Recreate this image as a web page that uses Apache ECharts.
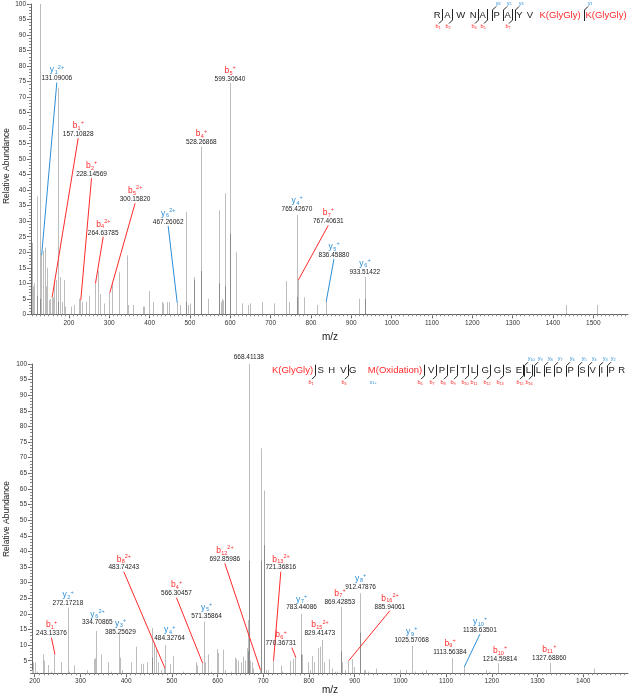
<!DOCTYPE html>
<html><head><meta charset="utf-8">
<script src="https://cdn.jsdelivr.net/npm/echarts@6/dist/echarts.min.js"></script>
<style>html,body{margin:0;padding:0;background:#fff}#c{width:630px;height:699px}</style>
</head><body><div id="c"></div>
<script>
// ---------------- DATA ----------------
// Top spectrum: unannotated peaks (m/z, relative abundance %)
const topPeakMz = [109,111.5,114,120,129.1,134.8,140,142.5,145,150,153,161,164,168,174.1,179,182,187.5,190,206,212,225,232,242,250,273,276,287,306,325,345,347,360,384,386,399,409,430,432,442,447,475,489.3,495,501,509,510.5,544,546,571,573,576,580,583,587.6,614.5,630,644.5,649.5,678,709,738.5,745,784,816,918.5,1432,1508];
const topPeakAb = [23,9,10,38,100,20.5,21.5,9,15,4.5,5,5.5,10.5,11,73,12,4,11,2.5,2.5,3,5,4,4,6,14,6.5,3.5,10.5,13.5,19,3,3,2.5,2.5,7.5,4,4,3.5,4,4,3,33,3,3.5,12,11,5,3,33.5,4,4,5,4.5,39,20,3.5,3,3.5,4,3.5,10.7,4,5.5,3,5,3,3];
const topDarkMz = [120,129.1,174.1,489.3,509,528.27,571,587.6,599.31,765.43,933.51];
const topDarkAb = [6,5,4,4,11,14,10,9,26,5.5,5];
// Top spectrum: annotated fragment ions
const topIonType = ['y','b','b','b','b','y','b','b','y','b','y','y'];
const topIonNo = ['1','1','2','4','5','6','4','5','4','7','5','6'];
const topIonZ = ['2+','+','+','2+','2+','2+','+','+','+','+','+','+'];
const topIonMz = [131.09006,157.10828,228.14569,264.63785,300.15820,467.26062,528.26868,599.30640,765.42670,767.40631,836.45880,933.51422];
const topIonAb = [19,5.5,4.5,10,7,3.7,54,74.5,32,11,4,12];

// Bottom spectrum: unannotated peaks
const botPeakMz = [195,197,200,206,218,219.5,229,236,258,274,286,300,314,329,332,344.5,360,366,387,392,411.6,420.5,422,432,437,446,457.6,460,466,470,476,495,503,516,524,552,556,573,580,585,599,601,610.8,612,617,630,638,641,644,651,656,659.6,664,667,668.41138,672,675,678,694.6,696,701.9,705,710,738,742,758,765,785,797,802,806,812,820,823.8,833,844,850,858,862,872,878,893.8,898,920,923,930,946,999,1013,1032,1047,1057,1187,1193,1424];
const botPeakAb = [2,4.5,4.5,1.5,7,5,3.6,1.5,4.5,1.5,3.5,1,2,5.5,5.8,7,4.5,1.5,6,2,4.5,9.5,4.5,4,4,4.5,15.5,11,8.5,4.5,2,4,6.5,1,1.5,4.5,3.5,4.5,7,1.5,8.7,7.5,8.5,6.5,2,1.5,6,5.5,5,4.5,6.3,5,9,18,100,5,4.5,2.5,73,4,59.5,2,2,3.5,1.5,5,5.5,7,4.5,2,6.5,4.5,9,9.5,4.5,5.5,2.5,1.5,1.5,4.5,2,5.5,3,2,2,1.5,2.5,2,2,1.5,1.5,2,2,1.5,2.5];
const botDarkMz = [457.6,667,668.41138,694.6,701.9,783.44,869.43,912.48];
const botDarkAb = [6,8,37,37,42,7,8,14];
const botBaseMz = 668.41138;
// Bottom spectrum: annotated fragment ions
const botIonType = ['b','y','y','y','b','y','b','y','b','b','y','b','b','b','y','b','y','y','b','b','b'];
const botIonNo = ['1','2','6','3','8','4','4','5','12','13','7','6','15','7','8','16','9','10','9','10','11'];
const botIonZ = ['+','+','2+','+','2+','+','+','+','2+','2+','+','+','2+','+','+','2+','+','+','+','+','+'];
const botIonMz = [243.13376,272.17218,334.70865,385.25629,483.74243,484.32764,566.30457,571.35864,692.85986,721.36816,783.44086,770.36731,829.41473,869.42853,912.47876,885.94061,1025.57068,1138.63501,1113.56384,1214.59814,1327.68860];
const botIonAb = [7,22,14.5,13.5,2.6,10,4.2,17.5,2,5,20,6,11.6,22.3,26.6,5,9.7,3,5.8,4.2,4.4];

// Axis tick labels
const topXTicks = [200,300,400,500,600,700,800,900,1000,1100,1200,1300,1400,1500];
const botXTicks = [200,300,400,500,600,700,800,900,1000,1100,1200,1300,1400];
const topYTicks = [0,5,10,15,20,25,30,35,40,45,50,55,60,65,70,75,80,85,90,95,100];
const botYTicks = [5,10,15,20,25,30,35,40,45,50,55,60,65,70,75,80,85,90,95,100];

// Peptide sequences
const topSeq = ['R','A','W','N','A','P','A','Y','V','K(GlyGly)','K(GlyGly)'];
const topSeqMod = [0,0,0,0,0,0,0,0,0,1,1];
const topSeqB = [[0,'1'],[1,'2'],[3,'4'],[4,'5'],[6,'7']];
const topSeqY = [[5,'6'],[6,'5'],[7,'4'],[10,'1']];
const botSeq = ['K(GlyGly)','S','H','V','G','M(Oxidation)','V','P','F','T','L','G','G','S','E','L','L','E','D','P','S','V','I','P','R'];
const botSeqMod = [1,0,0,0,0,1,0,0,0,0,0,0,0,0,0,0,0,0,0,0,0,0,0,0,0];
const botSeqB = [[0,'1'],[3,'4'],[5,'6'],[6,'7'],[7,'8'],[8,'9'],[9,'10'],[10,'11'],[11,'12'],[12,'13'],[14,'15'],[15,'16']];
const botSeqY = [[15,'10'],[16,'9'],[17,'8'],[18,'7'],[19,'6'],[20,'5'],[21,'4'],[22,'3'],[23,'2']];
const botSeqExtra = [[5,'x','1+']];

// ---------------- LAYOUT (label placement, not data) ----------------
// [labelMz, labelAbundance, drawLeader, leaderDx]
const topLabelPos = [[170,78.7,1],[223,60.8,1],[256,47.9,1],[285,29,1],[364,39.8,1],[446,32.5,1],[528.3,58.1,0],[599.3,78.5,0],[765.4,36.6,0],[843,32.7,1],[857,21.8,1],[933.5,16.4,0]];
const botLabelPos = [[236.5,16.4,1],[272.5,26,0],[337,19.9,0],[387.5,17,0],[394.8,37.5,1],[495,14.8,0],[510,29.2,1],[575.8,22.1,0],[615.8,40.2,1],[738.4,37.5,1],[783.7,24.7,0],[738.4,13.2,1,11],[823.8,16.4,0],[867.5,26.6,0],[912.8,31.4,0],[977,25,1],[1024.5,14.3,0],[1174,17.5,1],[1108.3,10.6,0],[1217.7,8.2,0],[1325.6,8.6,0]];
const topSeqX = [437.3,447.3,460.7,473.3,482.7,496.7,507.7,519.3,530,560,606];
const botSeqX = [292.5,320.7,331.7,343.3,352.7,395,431.2,442,452.5,463.2,473.3,485.3,497.5,508.2,518.8,528.3,538.3,548.3,559.3,570.7,582.3,592.7,601.7,611.7,621.7];

// ---------------- RENDER ----------------
const FONT = 'Liberation Sans';
const RED = '#ff2a2a', BLUE = '#2b8ed6', PEAK = '#bdbdbd', DARK = '#8c8c8c', AXIS = '#666', TXT = '#222';
function rng(a, b, s) { const r = []; for (let v = a; v <= b + 1e-9; v += s) r.push(+v.toFixed(6)); return r; }
const plain = v => String(v);

function xAxesFor(gi, min, max, labels) {
  return [
    { type: 'value', gridIndex: gi, position: 'bottom', min, max, splitLine: { show: false },
      axisLine: { lineStyle: { color: AXIS, width: 1 } },
      axisTick: { length: 4, lineStyle: { color: AXIS }, customValues: labels },
      axisLabel: { customValues: labels, formatter: plain, fontSize: 6.5, color: '#333', fontFamily: FONT, margin: 5 } },
    { type: 'value', gridIndex: gi, position: 'bottom', min, max, splitLine: { show: false },
      axisLine: { show: false }, axisLabel: { show: false },
      axisTick: { length: 2, lineStyle: { color: '#888' }, customValues: rng(Math.ceil(min / 10) * 10, max, 10) } }
  ];
}
function yAxesFor(gi, min, max, labels) {
  return [
    { type: 'value', gridIndex: gi, position: 'left', min, max, splitLine: { show: false },
      axisLine: { show: true, lineStyle: { color: AXIS, width: 1 } },
      axisTick: { show: true, length: 4, lineStyle: { color: AXIS }, customValues: labels },
      axisLabel: { customValues: labels, formatter: plain, fontSize: 6.5, color: '#333', fontFamily: FONT, margin: 5 } },
    { type: 'value', gridIndex: gi, position: 'left', min, max, splitLine: { show: false },
      axisLine: { show: false }, axisLabel: { show: false },
      axisTick: { show: true, length: 2, lineStyle: { color: '#888' }, customValues: rng(Math.ceil(min), max, 1) } }
  ];
}

function stickSeries(xi, yi, mz, ab, color, ymin) {
  return {
    type: 'custom', xAxisIndex: xi, yAxisIndex: yi, silent: true, clip: true,
    data: mz.map((m, i) => [m, ab[i]]),
    renderItem(params, api) {
      const p0 = api.coord([api.value(0), ymin]);
      const p1 = api.coord([api.value(0), Math.max(ymin, api.value(1))]);
      const x = Math.round(p0[0]) + 0.5;
      return { type: 'line', shape: { x1: x, y1: p0[1], x2: x, y2: p1[1] }, style: { stroke: color, lineWidth: 1 } };
    }
  };
}

function annSeries(xi, yi, types, nos, zs, mzs, abs, pos, ymin) {
  return {
    type: 'custom', xAxisIndex: xi, yAxisIndex: yi, silent: true, clip: false, z: 5,
    data: mzs.map((m, i) => [m, abs[i], i]),
    renderItem(params, api) {
      const i = api.value(2);
      const pk = api.coord([api.value(0), Math.max(ymin, api.value(1))]);
      const p = pos[i];
      const lb = api.coord([p[0], p[1]]);
      const col = types[i] === 'b' ? RED : BLUE;
      const wMain = 4.7, wSub = 3.06 * nos[i].length, wSup = zs[i].length === 2 ? 6.3 : 3.2;
      const x0 = lb[0] - (wMain + wSub + wSup) / 2;
      const ch = [
        { type: 'text', style: { text: types[i], x: x0, y: lb[1], align: 'left', verticalAlign: 'middle', fontSize: 8.5, fontFamily: FONT, fill: col } },
        { type: 'text', style: { text: nos[i], x: x0 + wMain + 0.2, y: lb[1] + 2.4, align: 'left', verticalAlign: 'middle', fontSize: 5.5, fontFamily: FONT, fill: col } },
        { type: 'text', style: { text: zs[i], x: x0 + wMain + wSub + 0.3, y: lb[1] - 3, align: 'left', verticalAlign: 'middle', fontSize: 5.5, fontFamily: FONT, fill: col } },
        { type: 'text', style: { text: mzs[i].toFixed(5), x: lb[0], y: lb[1] + 8.5, align: 'center', verticalAlign: 'middle', fontSize: 6.5, fontFamily: FONT, fill: TXT } }
      ];
      if (p[2]) {
        ch.push({ type: 'line', shape: { x1: lb[0] + (p[3] || 0), y1: lb[1] + 12.5, x2: pk[0] + 0.5, y2: pk[1] }, style: { stroke: col, lineWidth: 1 } });
      }
      return { type: 'group', children: ch };
    }
  };
}

function baseLabelSeries(xi, yi, mz) {
  return {
    type: 'custom', xAxisIndex: xi, yAxisIndex: yi, silent: true, clip: false, z: 5,
    data: [[mz, 100]],
    renderItem(params, api) {
      const p = api.coord([api.value(0), api.value(1)]);
      return { type: 'text', style: { text: api.value(0).toFixed(5), x: p[0], y: p[1] - 7, align: 'center', verticalAlign: 'middle', fontSize: 6.5, fontFamily: FONT, fill: TXT } };
    }
  };
}

const mctx = document.createElement('canvas').getContext('2d');
function tw(t, size) { mctx.font = size + 'px "' + FONT + '"'; return mctx.measureText(t).width; }

function seqGraphics(res, mods, xs, cy, bList, yList, extra) {
  const els = [];
  const FS = 9.5;
  res.forEach((r, i) => els.push({ type: 'text', x: xs[i], y: cy, style: { text: r, fontSize: FS, fontFamily: FONT, fill: mods[i] ? RED : TXT, align: 'center', verticalAlign: 'middle' } }));
  bList.forEach(([i, n]) => {
    const x = Math.round(xs[i] + tw(res[i], FS) / 2 + 1.5) + 0.5;
    els.push({ type: 'polyline', shape: { points: [[x, cy - 6], [x, cy + 5], [x - 3.5, cy + 8.5]] }, style: { stroke: TXT, lineWidth: 1, fill: null } });
    els.push({ type: 'text', x: x - 5.5, y: cy + 11.5, style: { text: 'b', fontSize: 5.5, fontFamily: FONT, fill: RED, align: 'center', verticalAlign: 'middle' } });
    els.push({ type: 'text', x: x - 4, y: cy + 12.8, style: { text: n, fontSize: 3.8, fontFamily: FONT, fill: RED, align: 'left', verticalAlign: 'middle' } });
  });
  yList.forEach(([i, n]) => {
    const x = Math.round(xs[i] - tw(res[i], FS) / 2 - 1.5) + 0.5;
    els.push({ type: 'polyline', shape: { points: [[x, cy + 6], [x, cy - 5], [x + 3.5, cy - 8.5]] }, style: { stroke: TXT, lineWidth: 1, fill: null } });
    els.push({ type: 'text', x: x + 4.5, y: cy - 12, style: { text: 'y', fontSize: 5.5, fontFamily: FONT, fill: BLUE, align: 'center', verticalAlign: 'middle' } });
    els.push({ type: 'text', x: x + 6, y: cy - 10.8, style: { text: n, fontSize: 3.8, fontFamily: FONT, fill: BLUE, align: 'left', verticalAlign: 'middle' } });
  });
  (extra || []).forEach(([i, l, n]) => {
    const x = xs[i] - tw(res[i], FS) / 2 + 3;
    els.push({ type: 'text', x: x, y: cy + 11.5, style: { text: l, fontSize: 5.5, fontFamily: FONT, fill: BLUE, align: 'center', verticalAlign: 'middle' } });
    els.push({ type: 'text', x: x + 1.6, y: cy + 12, style: { text: n, fontSize: 3.8, fontFamily: FONT, fill: BLUE, align: 'left', verticalAlign: 'middle' } });
  });
  return els;
}

const chart = echarts.init(document.getElementById('c'), null, { renderer: 'canvas', width: 630, height: 699 });
const graphics = [].concat(
  seqGraphics(topSeq, topSeqMod, topSeqX, 15, topSeqB, topSeqY),
  seqGraphics(botSeq, botSeqMod, botSeqX, 370.7, botSeqB, botSeqY, botSeqExtra),
  [
    { type: 'text', x: 330, y: 337, style: { text: 'm/z', fontSize: 10, fontFamily: FONT, fill: TXT, align: 'center', verticalAlign: 'middle' } },
    { type: 'text', x: 330, y: 690, style: { text: 'm/z', fontSize: 10, fontFamily: FONT, fill: TXT, align: 'center', verticalAlign: 'middle' } },
    { type: 'text', x: 7, y: 166, rotation: Math.PI / 2, style: { text: 'Relative Abundance', fontSize: 8.5, fontFamily: FONT, fill: TXT, align: 'center', verticalAlign: 'middle' } },
    { type: 'text', x: 7, y: 519, rotation: Math.PI / 2, style: { text: 'Relative Abundance', fontSize: 8.5, fontFamily: FONT, fill: TXT, align: 'center', verticalAlign: 'middle' } }
  ]
);

chart.setOption({
  backgroundColor: '#fff',
  animation: false,
  grid: [
    { left: 31, top: 4, width: 597, height: 310.3 },
    { left: 32, top: 364, width: 596, height: 309.2 }
  ],
  xAxis: [].concat(xAxesFor(0, 106, 1586, topXTicks), xAxesFor(1, 194, 1498, botXTicks)),
  yAxis: [].concat(yAxesFor(0, 0, 100, topYTicks), yAxesFor(1, 1, 100, botYTicks)),
  series: [
    stickSeries(0, 0, topPeakMz, topPeakAb, PEAK, 0),
    stickSeries(0, 0, topIonMz, topIonAb, PEAK, 0),
    stickSeries(0, 0, topDarkMz, topDarkAb, DARK, 0),
    annSeries(0, 0, topIonType, topIonNo, topIonZ, topIonMz, topIonAb, topLabelPos, 0),
    stickSeries(2, 2, botPeakMz, botPeakAb, PEAK, 1),
    stickSeries(2, 2, botIonMz, botIonAb, PEAK, 1),
    stickSeries(2, 2, botDarkMz, botDarkAb, DARK, 1),
    annSeries(2, 2, botIonType, botIonNo, botIonZ, botIonMz, botIonAb, botLabelPos, 1),
    baseLabelSeries(2, 2, botBaseMz)
  ],
  graphic: { elements: graphics }
});
</script>
</body></html>
